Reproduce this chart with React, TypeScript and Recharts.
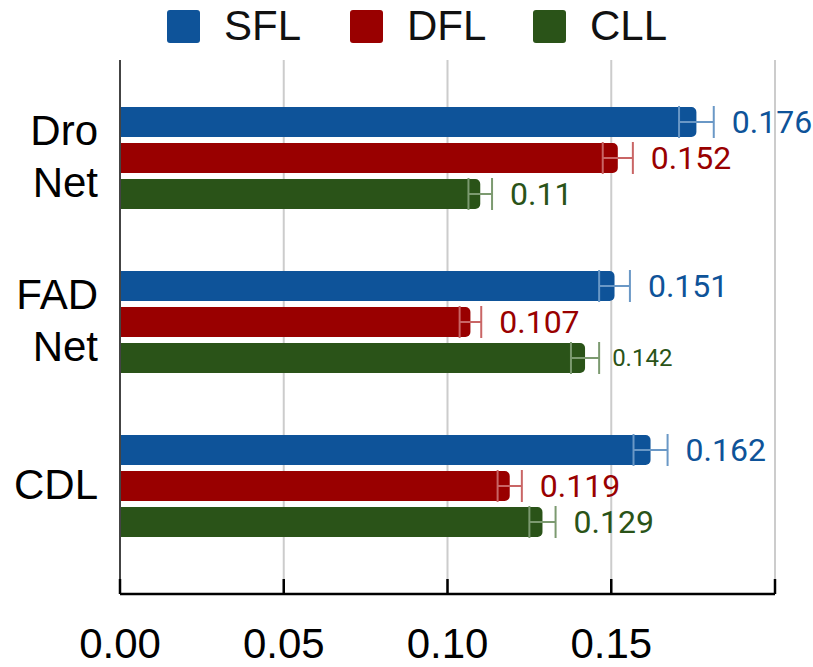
import React from "react";
import {
  BarChart,
  Bar,
  XAxis,
  YAxis,
  CartesianGrid,
  ErrorBar,
  LabelList,
  Legend,
} from "recharts";

const categories = ["Dro Net", "FAD Net", "CDL"];
const sflValues = [0.176, 0.151, 0.162];
const dflValues = [0.152, 0.107, 0.119];
const cllValues = [0.11, 0.142, 0.129];
const sflErrors = [0.0053, 0.0047, 0.0052];
const dflErrors = [0.0046, 0.0033, 0.0037];
const cllErrors = [0.0036, 0.0043, 0.004];
const xTicks = [0, 0.05, 0.1, 0.15, 0.2];
const xTickLabels = ["0.00", "0.05", "0.10", "0.15", ""];

const AXIS_FONT = "'Liberation Sans', Arial, sans-serif";
const LABEL_FONT = "Roboto, 'Noto Sans', sans-serif";

const series = [
  { key: "SFL", err: "SFLerr", color: "#0e5399", errColor: "#6a98c6" },
  { key: "DFL", err: "DFLerr", color: "#990000", errColor: "#c96565" },
  { key: "CLL", err: "CLLerr", color: "#2a5318", errColor: "#7c9a70" },
];

// the one label drawn smaller in the original figure
const smallLabel = { series: "CLL", category: "FAD Net" };

const data = categories.map((name, i) => ({
  name,
  SFL: sflValues[i],
  DFL: dflValues[i],
  CLL: cllValues[i],
  SFLerr: sflErrors[i],
  DFLerr: dflErrors[i],
  CLLerr: cllErrors[i],
}));

function XTick(props: any) {
  const { x, y, payload, index } = props;
  return (
    <g>
      <line x1={x} x2={x} y1={y} y2={y - 15} stroke="#000" strokeWidth={2.5} />
      <text
        x={x}
        y={y + 64}
        textAnchor="middle"
        fontSize={42}
        fontFamily={AXIS_FONT}
        fill="#000"
      >
        {xTickLabels[index] ?? payload.value}
      </text>
    </g>
  );
}

function YTick(props: any) {
  const { x, y, payload } = props;
  const lines = String(payload.value).split(" ");
  const first = y - ((lines.length - 1) * 52) / 2 + 13;
  return (
    <text textAnchor="end" fontSize={42} fontFamily={AXIS_FONT} fill="#000">
      {lines.map((line, i) => (
        <tspan key={i} x={x} y={first + i * 52}>
          {line}
        </tspan>
      ))}
    </text>
  );
}

function makeLabel(seriesKey: string, errKey: string, color: string) {
  return (props: any) => {
    const { x, y, width, height, value, index } = props;
    const row = data[index];
    const pxPerUnit = width / value;
    const errPx = (row[errKey as keyof typeof row] as number) * pxPerUnit;
    const small = seriesKey === smallLabel.series && row.name === smallLabel.category;
    return (
      <text
        x={x + width + errPx + (small ? 13 : 18)}
        y={y + height / 2}
        dominantBaseline="central"
        fontSize={small ? 24 : 32}
        fontFamily={LABEL_FONT}
        fill={color}
      >
        {String(value)}
      </text>
    );
  };
}

function LegendContent() {
  return (
    <div style={{ display: "flex", height: 52, paddingLeft: 167, alignItems: "center" }}>
      {series.map((s) => (
        <div key={s.key} style={{ display: "flex", alignItems: "center", width: 183 }}>
          <div
            style={{
              width: 33,
              height: 33,
              borderRadius: 3,
              background: s.color,
              marginRight: 24,
            }}
          />
          <span style={{ fontSize: 42, fontFamily: AXIS_FONT, color: "#111", lineHeight: "42px" }}>
            {s.key}
          </span>
        </div>
      ))}
    </div>
  );
}

export default function App() {
  return (
    <div style={{ position: "absolute", left: 0, top: 0, background: "#fff" }}>
      <BarChart
        width={813}
        height={667}
        data={data}
        layout="vertical"
        margin={{ top: 8, right: 38, bottom: 0, left: 0 }}
        barSize={30}
        barGap={6}
      >
        <CartesianGrid horizontal={false} stroke="#cccccc" strokeWidth={2} />
        <XAxis
          type="number"
          domain={[0, 0.2]}
          ticks={xTicks}
          height={73}
          axisLine={{ stroke: "#000", strokeWidth: 2.5 }}
          tickLine={false}
          tickSize={0}
          tickMargin={0}
          tick={<XTick />}
          interval={0}
        />
        <YAxis
          type="category"
          dataKey="name"
          width={120}
          padding={{ top: 16, bottom: 26 }}
          axisLine={{ stroke: "#444", strokeWidth: 2 }}
          tickLine={false}
          tickSize={0}
          tickMargin={22}
          tick={<YTick />}
          interval={0}
        />
        <Legend
          verticalAlign="top"
          align="left"
          content={<LegendContent />}
          wrapperStyle={{ top: 0, left: 0, width: 813 }}
        />
        {series.map((s) => (
          <Bar
            key={s.key}
            dataKey={s.key}
            name={s.key}
            fill={s.color}
            radius={[0, 5, 5, 0]}
            isAnimationActive={false}
          >
            <ErrorBar
              dataKey={s.err}
              direction="x"
              width={16}
              stroke={s.errColor}
              strokeWidth={2}
              isAnimationActive={false}
            />
            <LabelList dataKey={s.key} content={makeLabel(s.key, s.err, s.color)} />
          </Bar>
        ))}
      </BarChart>
    </div>
  );
}
